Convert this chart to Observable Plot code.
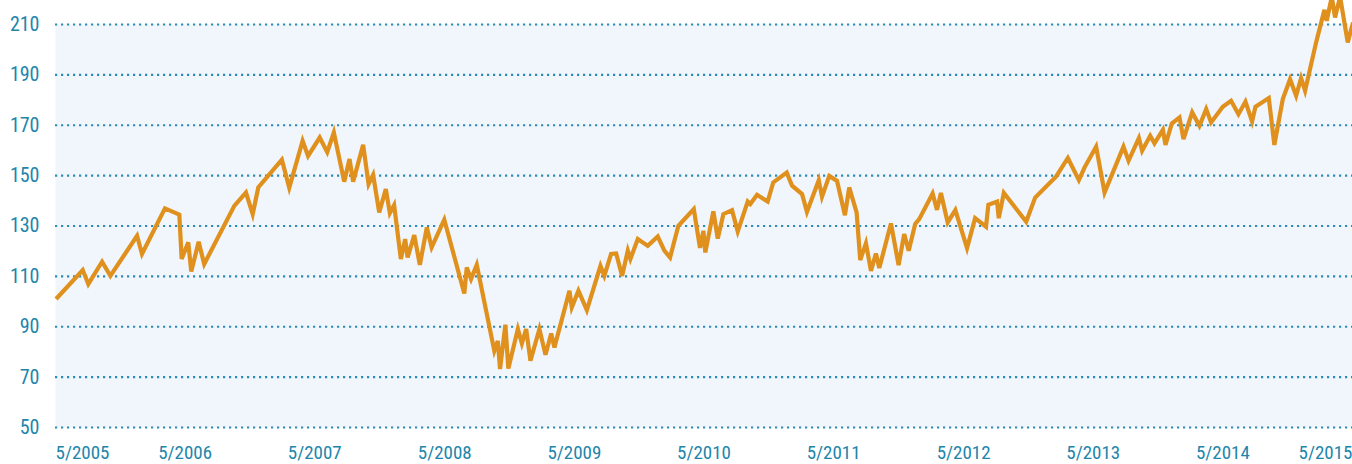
<!DOCTYPE html>
<html>
<head>
<meta charset="utf-8">
<script src="https://cdn.jsdelivr.net/npm/d3@7"></script>
<script src="https://cdn.jsdelivr.net/npm/@observablehq/plot@0.6"></script>
<style>
  html, body { margin: 0; padding: 0; background: #ffffff; }
  #chart { width: 1352px; height: 464px; overflow: hidden; }
</style>
</head>
<body>
<div id="chart"></div>
<script>
// Decimal years (time) of each observation
const years = [
  2005.333, 2005.539, 2005.582, 2005.688, 2005.752, 2005.958, 2005.996, 2006.173, 2006.284, 2006.302,
  2006.353, 2006.376, 2006.433, 2006.476, 2006.708, 2006.798, 2006.850, 2006.893, 2007.075, 2007.132,
  2007.235, 2007.277, 2007.367, 2007.425, 2007.476, 2007.556, 2007.597, 2007.625, 2007.702, 2007.744,
  2007.779, 2007.826, 2007.877, 2007.908, 2007.941, 2007.993, 2008.026, 2008.045, 2008.096, 2008.139,
  2008.193, 2008.230, 2008.327, 2008.481, 2008.500, 2008.533, 2008.577, 2008.712, 2008.739, 2008.756,
  2008.797, 2008.820, 2008.893, 2008.924, 2008.957, 2008.990, 2009.059, 2009.106, 2009.150, 2009.175,
  2009.291, 2009.309, 2009.360, 2009.425, 2009.530, 2009.560, 2009.612, 2009.651, 2009.697, 2009.741,
  2009.761, 2009.818, 2009.895, 2009.972, 2010.023, 2010.067, 2010.131, 2010.250, 2010.298, 2010.324,
  2010.339, 2010.401, 2010.435, 2010.478, 2010.545, 2010.589, 2010.666, 2010.686, 2010.738, 2010.820,
  2010.863, 2010.967, 2011.008, 2011.085, 2011.123, 2011.214, 2011.239, 2011.295, 2011.355, 2011.416,
  2011.449, 2011.506, 2011.534, 2011.578, 2011.617, 2011.655, 2011.681, 2011.771, 2011.830, 2011.873,
  2011.908, 2011.958, 2011.989, 2012.092, 2012.126, 2012.156, 2012.208, 2012.267, 2012.357, 2012.419,
  2012.503, 2012.521, 2012.588, 2012.601, 2012.640, 2012.812, 2012.881, 2013.043, 2013.133, 2013.218,
  2013.261, 2013.351, 2013.416, 2013.562, 2013.601, 2013.681, 2013.706, 2013.768, 2013.801, 2013.866,
  2013.886, 2013.935, 2013.994, 2014.025, 2014.092, 2014.148, 2014.200, 2014.238, 2014.328, 2014.392,
  2014.449, 2014.503, 2014.554, 2014.580, 2014.683, 2014.726, 2014.791, 2014.847, 2014.894, 2014.932,
  2014.963, 2015.048, 2015.112, 2015.130, 2015.169, 2015.194, 2015.233, 2015.292, 2015.333
];
// Index values
const values = [
  101.0, 112.5, 106.9, 115.8, 110.2, 126.1, 118.9, 137.0, 134.5, 116.9,
  123.5, 111.9, 123.7, 114.9, 138.0, 143.3, 134.7, 145.3, 156.3, 145.2,
  163.8, 157.8, 165.1, 159.3, 167.1, 147.6, 156.6, 147.6, 162.2, 146.6,
  150.3, 135.4, 144.7, 135.1, 138.3, 116.9, 124.8, 117.5, 126.4, 114.6,
  129.4, 121.5, 132.5, 103.2, 113.5, 108.9, 114.6, 80.4, 84.4, 73.2,
  90.8, 73.4, 89.1, 83.4, 89.1, 76.5, 89.1, 78.9, 87.3, 81.8,
  104.3, 97.7, 104.3, 96.6, 114.2, 110.2, 118.9, 119.1, 110.2, 120.2,
  116.9, 124.8, 122.1, 125.8, 120.2, 117.5, 130.1, 136.7, 121.3, 128.1,
  119.5, 135.8, 125.0, 134.7, 136.3, 127.8, 139.7, 138.7, 142.4, 139.7,
  147.3, 151.2, 146.0, 142.7, 135.6, 148.2, 141.6, 149.9, 147.9, 134.3,
  145.3, 135.4, 116.5, 123.1, 112.2, 119.1, 113.3, 131.0, 114.5, 126.8,
  120.2, 130.8, 132.7, 142.9, 136.4, 143.1, 131.4, 136.3, 121.2, 133.1,
  129.7, 138.4, 139.7, 133.1, 143.1, 131.7, 141.3, 149.7, 157.0, 148.2,
  153.2, 161.5, 143.3, 161.5, 155.9, 164.9, 159.9, 165.8, 162.8, 168.2,
  162.2, 170.7, 173.1, 164.5, 175.1, 169.8, 176.4, 171.1, 177.3, 179.7,
  174.4, 179.4, 171.5, 177.3, 180.8, 162.2, 180.4, 188.3, 181.7, 188.7,
  183.7, 202.9, 215.8, 211.5, 221.0, 212.8, 221.0, 202.9, 210.8
];
// Axis ticks
const yTicks = [50, 70, 90, 110, 130, 150, 170, 190, 210];
const xTickYears = [2005, 2006, 2007, 2008, 2009, 2010, 2011, 2012, 2013, 2014, 2015];
const xTickMonth = 5;

function decToDate(d) {
  const y = Math.floor(d);
  const a = Date.UTC(y, 0, 1), b = Date.UTC(y + 1, 0, 1);
  return new Date(a + (d - y) * (b - a));
}
const data = years.map((t, i) => ({date: decToDate(t), value: values[i]}));
const xTicks = xTickYears.map(y => new Date(Date.UTC(y, xTickMonth - 1, 1)));
const fmt = d => `${d.getUTCMonth() + 1}/${d.getUTCFullYear()}`;

const teal = "#2185ab";
const gridCol = "#2a8db3";
const font = "'Liberation Sans Narrow', 'Roboto Condensed', 'DejaVu Sans Condensed', sans-serif";
const xAxisOpts = {tickSize: 0, tickPadding: 18, fill: teal, fontSize: 19, tickFormat: fmt, label: null};

const chart = Plot.plot({
  width: 1352,
  height: 464,
  marginLeft: 55,
  marginRight: 0,
  marginTop: 24,
  marginBottom: 37,
  style: {fontFamily: font, fontSize: "20px", background: "transparent", overflow: "hidden"},
  x: {type: "utc", domain: [xTicks[0], xTicks[xTicks.length - 1]]},
  y: {domain: [50, 210]},
  marks: [
    Plot.frame({fill: "#f0f6fb", stroke: null}),
    Plot.gridY(yTicks, {stroke: gridCol, strokeOpacity: 1, strokeWidth: 2.2, strokeDasharray: "2.2,3.8"}),
    Plot.axisY(yTicks, {tickSize: 0, tickPadding: 16, fill: teal, fontSize: 20, label: null}),
    Plot.axisX(xTicks.slice(0, 1), {...xAxisOpts, textAnchor: "start"}),
    Plot.axisX(xTicks.slice(1, -1), xAxisOpts),
    Plot.axisX(xTicks.slice(-1), {...xAxisOpts, textAnchor: "end"}),
    Plot.line(data, {x: "date", y: "value", stroke: "#e0901c", strokeWidth: 4.2, strokeLinejoin: "miter", strokeMiterlimit: 4, strokeLinecap: "butt", clip: false})
  ]
});
document.getElementById("chart").appendChild(chart);
</script>
</body>
</html>
